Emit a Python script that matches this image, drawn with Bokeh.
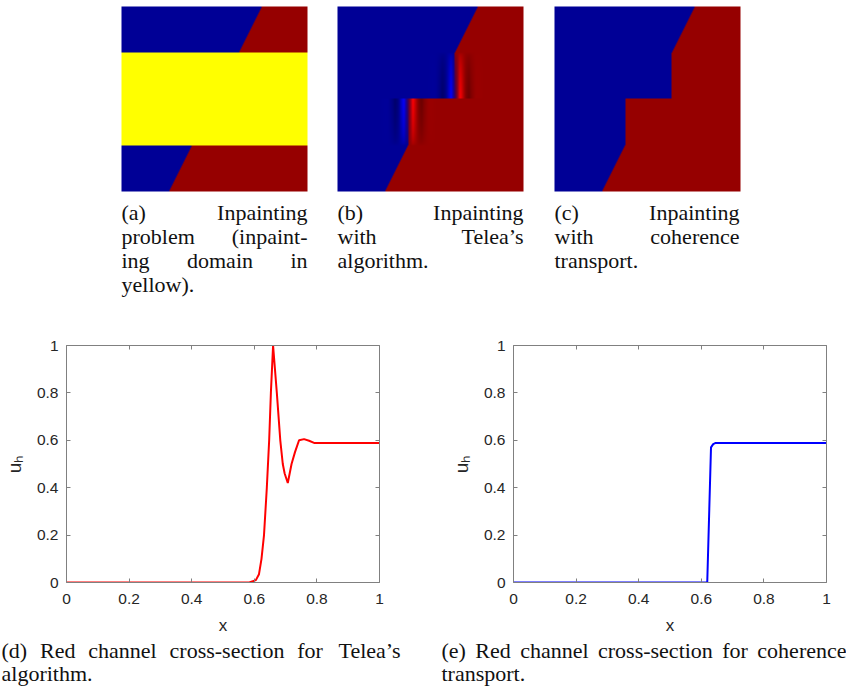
import numpy as np
from bokeh.plotting import figure
from bokeh.layouts import column, row
from bokeh.models import Range1d, LinearAxis, FixedTicker, ColumnDataSource
from bokeh.core.properties import value
from bokeh.embed import file_html
from bokeh.resources import INLINE

# ---------------- data ----------------
tick_values = [0, 0.2, 0.4, 0.6, 0.8, 1]
tick_labels = ["0", "0.2", "0.4", "0.6", "0.8", "1"]

# (d) red channel cross-section, Telea
telea_x = [0.0, 0.584, 0.605, 0.615, 0.623, 0.631, 0.640, 0.6475, 0.653, 0.660,
           0.672, 0.683, 0.691, 0.697, 0.707, 0.719, 0.730, 0.743, 0.759, 0.775,
           0.791, 1.0]
telea_u = [0.0, 0.0, 0.01, 0.035, 0.10, 0.20, 0.40, 0.60, 0.80, 1.00,
           0.80, 0.60, 0.50, 0.46, 0.42, 0.50, 0.55, 0.60, 0.605, 0.598,
           0.589, 0.589]

# (e) red channel cross-section, coherence transport
coh_x = [0.0, 0.619, 0.631, 0.638, 0.646, 1.0]
coh_u = [0.0, 0.0, 0.57, 0.584, 0.589, 0.589]

# image scene (fractions of the image; t measured from the top)
edge_t = [0.0, 1.0]
edge_x = [0.756, 0.256]
band_t = [0.25, 0.75]
step_t = 0.5
level = 0.59

captions_top = [
    ["(a) Inpainting", "problem (inpaint-", "ing domain in", "yellow)."],
    ["(b) Inpainting", "with Telea\u2019s", "algorithm."],
    ["(c) Inpainting", "with coherence", "transport."],
]
captions_bottom = [
    ["(d) Red channel cross-section for Telea\u2019s", "algorithm."],
    ["(e) Red channel cross-section for coherence", "transport."],
]

# ---------------- layout constants ----------------
WTOT = 846
T_H, P_H, C_H = 324, 310, 49
P_Y0 = 330          # reference y at top of plot row
C_Y0 = 647          # reference y at top of caption row

TW = {' ': 250, '(': 333, ')': 333, '-': 333, '.': 250, '\u2019': 333,
      'a': 444, 'b': 500, 'c': 444, 'd': 500, 'e': 444, 'f': 333, 'g': 500,
      'h': 500, 'i': 278, 'j': 278, 'k': 500, 'l': 278, 'm': 778, 'n': 500,
      'o': 500, 'p': 500, 'q': 500, 'r': 333, 's': 389, 't': 278, 'u': 500,
      'v': 500, 'w': 722, 'x': 500, 'y': 500, 'z': 444, 'I': 333, 'R': 667,
      'T': 611}
FS = 22.0


def layout_caption(lines, left, right, baselines, L, R):
    for k, line in enumerate(lines):
        y = -baselines[k]
        words = line.split(" ")
        if k == len(lines) - 1 or len(words) == 1:
            L["x"].append(left); L["y"].append(y); L["text"].append(line)
            continue
        widths = [sum(TW.get(c, 500) for c in w) * FS / 1000 for w in words]
        gap = (right - left - sum(widths)) / (len(words) - 1)
        x = left
        for w, wd in zip(words[:-1], widths[:-1]):
            L["x"].append(x); L["y"].append(y); L["text"].append(w)
            x += wd + gap
        R["x"].append(right); R["y"].append(y); R["text"].append(words[-1])


def canvas(height, y_top):
    f = figure(width=WTOT, height=height,
               x_range=Range1d(0, WTOT),
               y_range=Range1d(-(y_top + height), -y_top),
               output_backend="svg", toolbar_location=None, tools="",
               min_border=0, x_axis_location=None, y_axis_location=None,
               outline_line_color=None)
    f.grid.visible = False
    return f


def draw_text(f, L, R):
    for src, al in ((L, "left"), (R, "right")):
        f.text(x="x", y="y", text="text", source=ColumnDataSource(src),
               text_align=al, text_baseline="alphabetic",
               text_font=value("Liberation Serif"),
               text_font_size=value("22px"), text_color="#111111")


# ---------------- images ----------------
NX, NY = 186, 185
xs = (np.arange(NX) + 0.5) / NX
ts = (np.arange(NY) + 0.5) / NY
X, T = np.meshgrid(xs, ts)
xb = np.interp(T, edge_t, edge_x)
x_up = float(np.interp(band_t[0], edge_t, edge_x))
x_lo = float(np.interp(band_t[1], edge_t, edge_x))
in_up = (T >= band_t[0]) & (T < step_t)
in_lo = (T >= step_t) & (T < band_t[1])
bound = np.where(in_up, x_up, np.where(in_lo, x_lo, xb))


def to_rgba(Rc, Gc, Bc):
    img = np.empty((NY, NX), dtype=np.uint32)
    v = img.view(dtype=np.uint8).reshape((NY, NX, 4))
    v[..., 0] = np.clip(Rc, 0, 1) * 255
    v[..., 1] = np.clip(Gc, 0, 1) * 255
    v[..., 2] = np.clip(Bc, 0, 1) * 255
    v[..., 3] = 255
    return img[::-1].copy()


zero = np.zeros_like(X)
# (a)
band = (T >= band_t[0]) & (T < band_t[1])
Ra = np.where(band, 1.0, level * (X > xb))
Ga = np.where(band, 1.0, 0.0)
Ba = np.where(band, 0.0, level * (X <= xb))
img_a = to_rgba(Ra, Ga, Ba)
# (c)
Rc = level * (X > bound)
Bc = level * (X <= bound)
img_c = to_rgba(Rc, zero, Bc)
# (b)
rise_u = telea_u[1:10]
rise_x = telea_x[1:10]
xc = float(np.interp(0.295, rise_u, rise_x))
shift = np.where(in_lo, x_lo - xc, 0.0)
Xs = X - shift
profR = np.interp(Xs, telea_x, telea_u)
profB = np.interp(2 * xc - Xs, telea_x, telea_u)
w = np.zeros_like(X)
w = np.where(in_up, np.clip((T - band_t[0]) / (step_t - band_t[0]), 0, 1) ** 0.5, w)
w = np.where(in_lo, np.clip((band_t[1] - T) / (band_t[1] - step_t), 0, 1) ** 0.5, w)
Rb = Rc + w * (profR - Rc)
Bb = Bc + w * (profB - Bc)
img_b = to_rgba(Rb, zero, Bb)

# ---------------- top canvas ----------------
top = canvas(T_H, 0)
for img, x0 in ((img_a, 121), (img_b, 337), (img_c, 554)):
    top.image_rgba(image=[img], x=x0, y=-191, dw=186, dh=185)
L = {"x": [], "y": [], "text": []}
R = {"x": [], "y": [], "text": []}
cols = [(121, 307), (337, 523), (554, 739)]
for lines, (a, b) in zip(captions_top, cols):
    layout_caption(lines, a, b, [212, 236, 260, 284], L, R)
draw_text(top, L, R)

# ---------------- plots ----------------
AX = "#808080"
TXT = "#262626"


def style_axis(ax, labels=True):
    ax.ticker = FixedTicker(ticks=tick_values)
    ax.major_tick_in = 4
    ax.major_tick_out = 0
    ax.minor_tick_line_color = None
    ax.axis_line_color = AX
    ax.major_tick_line_color = AX
    if labels:
        ax.major_label_overrides = dict(zip(tick_values, tick_labels))
        ax.major_label_text_font = "Liberation Sans"
        ax.major_label_text_font_size = "15.5px"
        ax.major_label_text_color = TXT
    else:
        ax.major_label_text_font_size = "1px"
        ax.major_label_text_color = None
        ax.major_label_standoff = 0


def make_plot(xv, yv, color, bl, br):
    bt = 351 - P_Y0
    p = figure(frame_width=313, frame_height=237,
               x_range=Range1d(0, 1), y_range=Range1d(0, 1),
               output_backend="svg", toolbar_location=None, tools="",
               min_border_left=bl, min_border_right=br,
               min_border_top=bt, min_border_bottom=P_H - 237 - bt,
               outline_line_color=None)
    p.grid.visible = False
    xa, ya = p.xaxis[0], p.yaxis[0]
    style_axis(xa)
    style_axis(ya)
    xa.major_label_standoff = 11
    ya.major_label_standoff = 8
    for ax, lab, st, fs in ((xa, "x", 9, "17px"), (ya, "u\u2095", 9, "19px")):
        ax.axis_label = lab
        ax.axis_label_text_font = "Liberation Sans"
        ax.axis_label_text_font_size = fs
        ax.axis_label_text_font_style = "normal"
        ax.axis_label_text_color = TXT
        ax.axis_label_standoff = st
    ta = LinearAxis()
    style_axis(ta, labels=False)
    p.add_layout(ta, "above")
    ra = LinearAxis()
    style_axis(ra, labels=False)
    p.add_layout(ra, "right")
    p.line(xv, yv, line_color=color, line_width=2)
    return p


pd_ = make_plot(telea_x, telea_u, "#ff0000", 62, 57)
pe_ = make_plot(coh_x, coh_u, "#0000ff", 77, 24)

# ---------------- bottom captions ----------------
bot = canvas(C_H, C_Y0)
L = {"x": [], "y": [], "text": []}
R = {"x": [], "y": [], "text": []}
for lines, (a, b) in zip(captions_bottom, [(1, 400), (441, 846)]):
    layout_caption(lines, a, b, [660, 683], L, R)
draw_text(bot, L, R)

layout = column(top, row(pd_, pe_), bot)
open("out.html", "w").write(file_html(layout, INLINE))
